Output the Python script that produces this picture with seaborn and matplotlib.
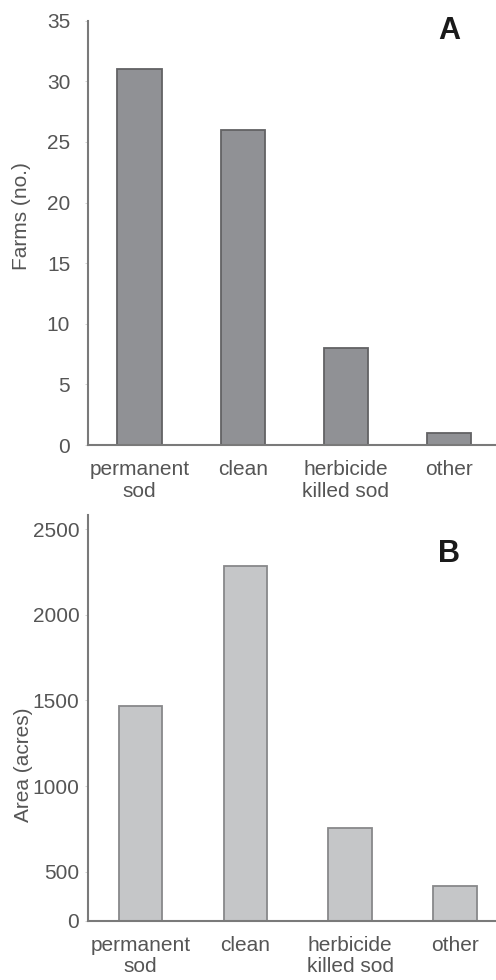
import matplotlib
matplotlib.use("Agg")
import matplotlib.pyplot as plt
import seaborn as sns
import pandas as pd

# ---- data ----
categories = ["permanent\nsod", "clean", "herbicide\nkilled sod", "other"]
farms_no = [31, 26, 8, 1]
area_acres = [1470, 2285, 755, 415]
farms_ticks = [0, 5, 10, 15, 20, 25, 30, 35]
area_ticks = [500, 1000, 1500, 2000, 2500]

sns.set_theme(style="white")
plt.rcParams['font.family'] = ['Liberation Sans', 'DejaVu Sans']

TXT = "#555555"
SPINE = "#7a7a7a"
FS = 15

fig = plt.figure(figsize=(4.96, 9.8), dpi=100)
axA = fig.add_axes([0.178, 0.5459, 0.822, 0.4330])
axB = fig.add_axes([0.178, 0.0605, 0.822, 0.4140])

dfA = pd.DataFrame({"cat": categories, "val": farms_no})
dfB = pd.DataFrame({"cat": categories, "val": area_acres})

sns.barplot(data=dfA, x="cat", y="val", color="#909195", edgecolor="#626264",
            linewidth=1.3, width=0.43, saturation=1, ax=axA)
sns.barplot(data=dfB, x="cat", y="val", color="#c5c6c8", edgecolor="#88888a",
            linewidth=1.3, width=0.415, saturation=1, ax=axB)

# Panel A axes
axA.set_xlim(-0.496, 3.454)
axA.set_ylim(0, 35)
axA.set_yticks(farms_ticks)
axA.set_yticklabels([str(t) for t in farms_ticks])
axA.set_ylabel("Farms (no.)", fontsize=FS, color=TXT)
axA.yaxis.set_label_coords(-0.163, 0.54)

# Panel B axes (axis baseline is labelled 0 in the reference)
b_bottom = 214
axB.set_xlim(-0.498, 3.39)
axB.set_ylim(b_bottom, 2582)
axB.set_yticks([b_bottom] + area_ticks)
axB.set_yticklabels(["0"] + [str(t) for t in area_ticks])
axB.set_ylabel("Area (acres)", fontsize=FS, color=TXT)
axB.yaxis.set_label_coords(-0.16, 0.384)

for ax, pad in ((axA, 10.5), (axB, 4)):
    ax.set_xlabel("")
    ax.yaxis.label.set_va("center")
    sns.despine(ax=ax, top=True, right=True)
    for s in ("left", "bottom"):
        ax.spines[s].set_color(SPINE)
        ax.spines[s].set_linewidth(1.5)
    ax.tick_params(axis="y", left=True, length=2.5, width=0.6, color="#cccccc",
                   labelsize=FS, labelcolor=TXT, pad=pad)
    ax.tick_params(axis="x", bottom=False, labelsize=FS, labelcolor=TXT, pad=5)
    for lab in ax.get_xticklabels():
        lab.set_linespacing(1.15)

axA.text(0.885, 0.976, "A", transform=axA.transAxes, fontsize=22,
         fontweight="bold", color="#1a1a1a", ha="center", va="center")
axB.text(0.885, 0.904, "B", transform=axB.transAxes, fontsize=22,
         fontweight="bold", color="#1a1a1a", ha="center", va="center")

fig.savefig("out.png", dpi=100)
